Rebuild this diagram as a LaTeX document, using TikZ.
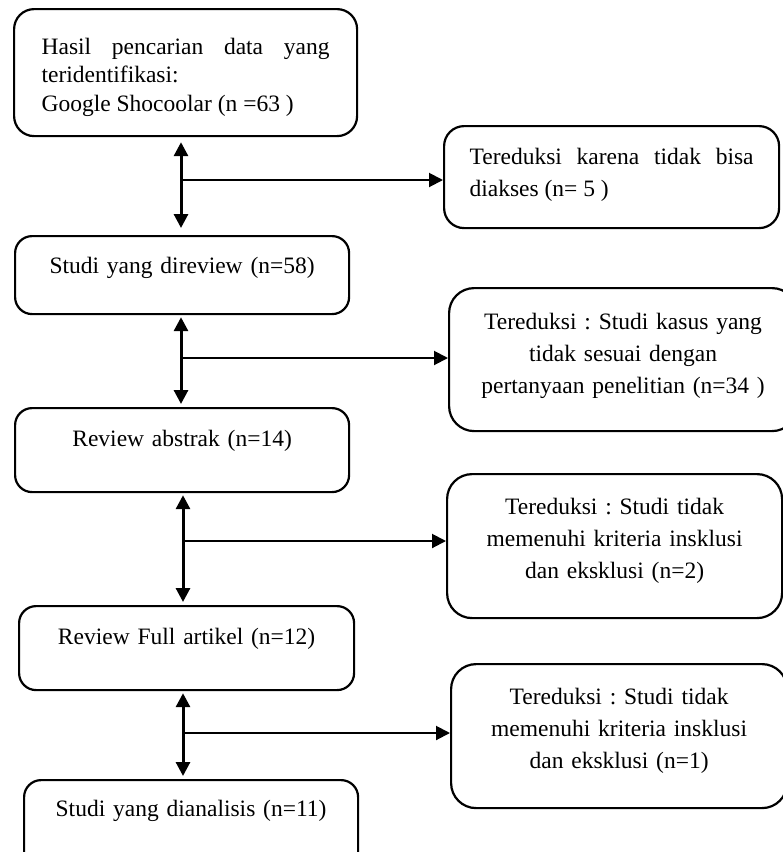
\documentclass[tikz,border=0pt]{standalone}
\usepackage{fontspec}
\setmainfont{Liberation Serif}
\usetikzlibrary{arrows.meta}
\hyphenpenalty=10000
\tolerance=10000
\frenchspacing

\begin{document}
\begin{tikzpicture}[
    x=1pt, y=-1pt,
    >={Triangle[length=14pt, width=14pt]},
    flowbox/.style={draw, line width=2.2pt, rounded corners=17pt, anchor=north west, inner sep=0pt, minimum width=334pt, text width=300pt, align=center, font=\fontsize{23.5}{28.5}\selectfont},
    sidebox/.style={flowbox, rounded corners=25pt, minimum width=335pt, font=\fontsize{23.5}{32}\selectfont},
    vline/.style={<->, line width=3pt, shorten <=2pt, shorten >=3pt},
    hline/.style={->, line width=2pt}
]

\path[use as bounding box, clip] (0,0) rectangle (783,852);

% Main flow boxes
\node[flowbox, rounded corners=20pt, minimum width=343pt, text width=288pt, align=justify, text height=45pt, text depth=82pt] (b1) at (13,8)
    {Hasil pencarian data yang teridentifikasi:\\Google Shocoolar (n =63 )};
\node[flowbox, text height=37pt, text depth=41pt] (b2) at (14,235) {Studi yang direview (n=58)};
\node[flowbox, text height=38pt, text depth=46pt] (b3) at (14,407) {Review abstrak (n=14)};
\node[flowbox, minimum width=335pt, text height=38pt, text depth=46pt] (b4) at (18,605) {Review Full artikel (n=12)};
\node[flowbox, text height=36pt, text depth=55pt] (b5) at (23,779) {Studi yang dianalisis (n=11)};

% Excluded boxes
\node[sidebox, rounded corners=20pt, text width=284pt, align=justify, text height=38pt, text depth=64pt] (r1) at (443,125)
    {Tereduksi karena tidak bisa diakses (n= 5 )};
\node[sidebox, minimum width=348pt, text height=41pt, text depth=102pt] (r2) at (448,287)
    {Tereduksi : Studi kasus yang\\tidak sesuai dengan\\pertanyaan penelitian (n=34 )};
\node[sidebox, text height=40pt, text depth=104pt] (r3) at (446,473)
    {Tereduksi : Studi tidak\\memenuhi kriteria insklusi\\dan eksklusi (n=2)};
\node[sidebox, minimum width=336pt, text height=40pt, text depth=104pt] (r4) at (450,663)
    {Tereduksi : Studi tidak\\memenuhi kriteria insklusi\\dan eksklusi (n=1)};

% Split points
\coordinate (s1) at (181,180);
\coordinate (s2) at (181,358);
\coordinate (s3) at (183,541);
\coordinate (s4) at (183,733);

% Vertical arrows
\draw[vline, shorten <=5pt, shorten >=7pt] (b1.south -| s1) -- (b2.north -| s1);
\draw[vline] (b2.south -| s2) -- (b3.north -| s2);
\draw[vline] (b3.south -| s3) -- (b4.north -| s3);
\draw[vline] (b4.south -| s4) -- (b5.north -| s4);

% Arrows to excluded boxes
\draw[hline] (s1) -- (s1 -| r1.west);
\draw[hline] (s2) -- (s2 -| r2.west);
\draw[hline] (s3) -- (s3 -| r3.west);
\draw[hline] (s4) -- (s4 -| r4.west);

\end{tikzpicture}
\end{document}
